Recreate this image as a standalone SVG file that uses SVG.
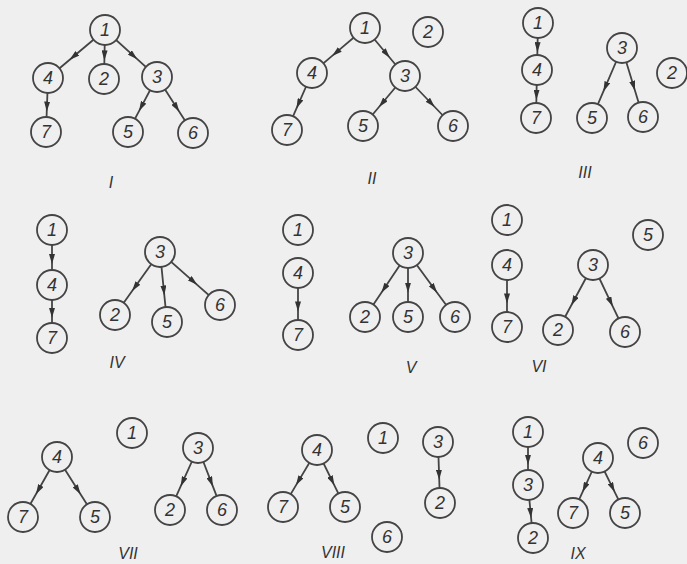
<svg xmlns="http://www.w3.org/2000/svg" width="687" height="564" viewBox="0 0 687 564">
<defs>
<style>
.bg{fill:#efefef}
.e{fill:none;stroke:#444;stroke-width:1.8;marker-mid:url(#ah)}
.n circle{fill:#efefef;stroke:#444;stroke-width:1.8}
.n text{font-family:"Liberation Sans",Arial,sans-serif;font-style:italic;font-size:18px;fill:#333;text-anchor:middle;dominant-baseline:central}
.lbl{font-family:"Liberation Sans",Arial,sans-serif;font-style:italic;font-size:16px;fill:#333;text-anchor:middle;dominant-baseline:central}
</style>
<marker id="ah" markerUnits="userSpaceOnUse" markerWidth="11" markerHeight="6" refX="10" refY="3" orient="auto">
<path d="M0,0 L10,3 L0,6 z" fill="#333"/>
</marker>
</defs>
<rect class="bg" x="0" y="0" width="687" height="564"/>
<g id="connectors">
<!-- I -->
<path class="e" d="M105,30 L69.66,59.76 L48,78"/>
<path class="e" d="M105,30 L104.38,60.38 L104,79"/>
<path class="e" d="M105,30 L137.24,59.14 L157,77"/>
<path class="e" d="M48,78 L46.76,111.48 L46,132"/>
<path class="e" d="M157,77 L139.02,111.1 L128,132"/>
<path class="e" d="M157,77 L179.32,111.72 L193,133"/>
<!-- II -->
<path class="e" d="M365,28 L332.14,55.9 L312,73"/>
<path class="e" d="M365,28 L389.8,57.76 L405,76"/>
<path class="e" d="M312,73 L296.5,108.34 L287,130"/>
<path class="e" d="M405,76 L378.96,107 L363,126"/>
<path class="e" d="M405,76 L434.76,107 L453,126"/>
<!-- III -->
<path class="e" d="M538,23 L537.38,52.14 L537,70"/>
<path class="e" d="M537,70 L536.38,99.76 L536,118"/>
<path class="e" d="M622,48 L603.4,91.4 L592,118"/>
<path class="e" d="M622,48 L635.02,90.78 L643,117"/>
<!-- IV -->
<path class="e" d="M52,230 L52,264.1 L52,285"/>
<path class="e" d="M52,285 L52,317.86 L52,338"/>
<path class="e" d="M160,252 L132.1,291.06 L115,315"/>
<path class="e" d="M160,252 L164.34,295.4 L167,322"/>
<path class="e" d="M160,252 L197.2,284.86 L220,305"/>
<!-- V -->
<path class="e" d="M298,273 L298,311.44 L298,335"/>
<path class="e" d="M408,253 L381.34,292.68 L365,317"/>
<path class="e" d="M408,253 L408,292.68 L408,317"/>
<path class="e" d="M408,253 L437.14,292.68 L455,317"/>
<!-- VI -->
<path class="e" d="M507,265 L507,303.44 L507,327"/>
<path class="e" d="M593,265 L571.3,305.3 L558,330"/>
<path class="e" d="M593,265 L612.84,306.54 L625,332"/>
<!-- VII -->
<path class="e" d="M57,457 L35.92,494.2 L23,517"/>
<path class="e" d="M57,457 L80.56,494.2 L95,517"/>
<path class="e" d="M198,448 L180.64,486.44 L170,510"/>
<path class="e" d="M198,448 L212.88,486.44 L222,510"/>
<!-- VIII -->
<path class="e" d="M317,450 L295.92,485.34 L283,507"/>
<path class="e" d="M317,450 L334.36,485.34 L345,507"/>
<path class="e" d="M438,442 L439.24,479.82 L440,503"/>
<!-- IX -->
<path class="e" d="M528,432 L528,464.86 L528,485"/>
<path class="e" d="M528,485 L531.1,517.86 L533,538"/>
<path class="e" d="M598,458 L582.5,492.1 L573,513"/>
<path class="e" d="M598,458 L614.74,492.1 L625,513"/>
</g>
<!-- Panel I -->
<g id="I-1" class="n"><circle cx="105" cy="30" r="15"/><text x="105" y="30">1</text></g>
<g id="I-4" class="n"><circle cx="48" cy="78" r="15"/><text x="48" y="78">4</text></g>
<g id="I-2" class="n"><circle cx="104" cy="79" r="15"/><text x="104" y="79">2</text></g>
<g id="I-3" class="n"><circle cx="157" cy="77" r="15"/><text x="157" y="77">3</text></g>
<g id="I-7" class="n"><circle cx="46" cy="132" r="15"/><text x="46" y="132">7</text></g>
<g id="I-5" class="n"><circle cx="128" cy="132" r="15"/><text x="128" y="132">5</text></g>
<g id="I-6" class="n"><circle cx="193" cy="133" r="15"/><text x="193" y="133">6</text></g>
<!-- Panel II -->
<g id="II-1" class="n"><circle cx="365" cy="28" r="15"/><text x="365" y="28">1</text></g>
<g id="II-2" class="n"><circle cx="428" cy="32" r="15"/><text x="428" y="32">2</text></g>
<g id="II-4" class="n"><circle cx="312" cy="73" r="15"/><text x="312" y="73">4</text></g>
<g id="II-3" class="n"><circle cx="405" cy="76" r="15"/><text x="405" y="76">3</text></g>
<g id="II-7" class="n"><circle cx="287" cy="130" r="15"/><text x="287" y="130">7</text></g>
<g id="II-5" class="n"><circle cx="363" cy="126" r="15"/><text x="363" y="126">5</text></g>
<g id="II-6" class="n"><circle cx="453" cy="126" r="15"/><text x="453" y="126">6</text></g>
<!-- Panel III -->
<g id="III-1" class="n"><circle cx="538" cy="23" r="15"/><text x="538" y="23">1</text></g>
<g id="III-4" class="n"><circle cx="537" cy="70" r="15"/><text x="537" y="70">4</text></g>
<g id="III-7" class="n"><circle cx="536" cy="118" r="15"/><text x="536" y="118">7</text></g>
<g id="III-3" class="n"><circle cx="622" cy="48" r="15"/><text x="622" y="48">3</text></g>
<g id="III-2" class="n"><circle cx="672" cy="73" r="15"/><text x="672" y="73">2</text></g>
<g id="III-5" class="n"><circle cx="592" cy="118" r="15"/><text x="592" y="118">5</text></g>
<g id="III-6" class="n"><circle cx="643" cy="117" r="15"/><text x="643" y="117">6</text></g>
<!-- Panel IV -->
<g id="IV-1" class="n"><circle cx="52" cy="230" r="15"/><text x="52" y="230">1</text></g>
<g id="IV-4" class="n"><circle cx="52" cy="285" r="15"/><text x="52" y="285">4</text></g>
<g id="IV-7" class="n"><circle cx="52" cy="338" r="15"/><text x="52" y="338">7</text></g>
<g id="IV-3" class="n"><circle cx="160" cy="252" r="15"/><text x="160" y="252">3</text></g>
<g id="IV-2" class="n"><circle cx="115" cy="315" r="15"/><text x="115" y="315">2</text></g>
<g id="IV-5" class="n"><circle cx="167" cy="322" r="15"/><text x="167" y="322">5</text></g>
<g id="IV-6" class="n"><circle cx="220" cy="305" r="15"/><text x="220" y="305">6</text></g>
<!-- Panel V -->
<g id="V-1" class="n"><circle cx="298" cy="230" r="15"/><text x="298" y="230">1</text></g>
<g id="V-4" class="n"><circle cx="298" cy="273" r="15"/><text x="298" y="273">4</text></g>
<g id="V-7" class="n"><circle cx="298" cy="335" r="15"/><text x="298" y="335">7</text></g>
<g id="V-3" class="n"><circle cx="408" cy="253" r="15"/><text x="408" y="253">3</text></g>
<g id="V-2" class="n"><circle cx="365" cy="317" r="15"/><text x="365" y="317">2</text></g>
<g id="V-5" class="n"><circle cx="408" cy="317" r="15"/><text x="408" y="317">5</text></g>
<g id="V-6" class="n"><circle cx="455" cy="317" r="15"/><text x="455" y="317">6</text></g>
<!-- Panel VI -->
<g id="VI-1" class="n"><circle cx="507" cy="220" r="15"/><text x="507" y="220">1</text></g>
<g id="VI-5" class="n"><circle cx="648" cy="235" r="15"/><text x="648" y="235">5</text></g>
<g id="VI-4" class="n"><circle cx="507" cy="265" r="15"/><text x="507" y="265">4</text></g>
<g id="VI-3" class="n"><circle cx="593" cy="265" r="15"/><text x="593" y="265">3</text></g>
<g id="VI-7" class="n"><circle cx="507" cy="327" r="15"/><text x="507" y="327">7</text></g>
<g id="VI-2" class="n"><circle cx="558" cy="330" r="15"/><text x="558" y="330">2</text></g>
<g id="VI-6" class="n"><circle cx="625" cy="332" r="15"/><text x="625" y="332">6</text></g>
<!-- Panel VII -->
<g id="VII-1" class="n"><circle cx="132" cy="433" r="15"/><text x="132" y="433">1</text></g>
<g id="VII-4" class="n"><circle cx="57" cy="457" r="15"/><text x="57" y="457">4</text></g>
<g id="VII-3" class="n"><circle cx="198" cy="448" r="15"/><text x="198" y="448">3</text></g>
<g id="VII-7" class="n"><circle cx="23" cy="517" r="15"/><text x="23" y="517">7</text></g>
<g id="VII-5" class="n"><circle cx="95" cy="517" r="15"/><text x="95" y="517">5</text></g>
<g id="VII-2" class="n"><circle cx="170" cy="510" r="15"/><text x="170" y="510">2</text></g>
<g id="VII-6" class="n"><circle cx="222" cy="510" r="15"/><text x="222" y="510">6</text></g>
<!-- Panel VIII -->
<g id="VIII-4" class="n"><circle cx="317" cy="450" r="15"/><text x="317" y="450">4</text></g>
<g id="VIII-1" class="n"><circle cx="383" cy="438" r="15"/><text x="383" y="438">1</text></g>
<g id="VIII-3" class="n"><circle cx="438" cy="442" r="15"/><text x="438" y="442">3</text></g>
<g id="VIII-7" class="n"><circle cx="283" cy="507" r="15"/><text x="283" y="507">7</text></g>
<g id="VIII-5" class="n"><circle cx="345" cy="507" r="15"/><text x="345" y="507">5</text></g>
<g id="VIII-2" class="n"><circle cx="440" cy="503" r="15"/><text x="440" y="503">2</text></g>
<g id="VIII-6" class="n"><circle cx="387" cy="537" r="15"/><text x="387" y="537">6</text></g>
<!-- Panel IX -->
<g id="IX-1" class="n"><circle cx="528" cy="432" r="15"/><text x="528" y="432">1</text></g>
<g id="IX-3" class="n"><circle cx="528" cy="485" r="15"/><text x="528" y="485">3</text></g>
<g id="IX-2" class="n"><circle cx="533" cy="538" r="15"/><text x="533" y="538">2</text></g>
<g id="IX-4" class="n"><circle cx="598" cy="458" r="15"/><text x="598" y="458">4</text></g>
<g id="IX-6" class="n"><circle cx="643" cy="443" r="15"/><text x="643" y="443">6</text></g>
<g id="IX-7" class="n"><circle cx="573" cy="513" r="15"/><text x="573" y="513">7</text></g>
<g id="IX-5" class="n"><circle cx="625" cy="513" r="15"/><text x="625" y="513">5</text></g>
<g id="labels">
<text class="lbl" x="111" y="182">I</text>
<text class="lbl" x="372" y="178">II</text>
<text class="lbl" x="585" y="172">III</text>
<text class="lbl" x="117" y="362">IV</text>
<text class="lbl" x="411" y="367">V</text>
<text class="lbl" x="539" y="366">VI</text>
<text class="lbl" x="128" y="553">VII</text>
<text class="lbl" x="333" y="552">VIII</text>
<text class="lbl" x="578" y="553">IX</text>
</g>
</svg>
